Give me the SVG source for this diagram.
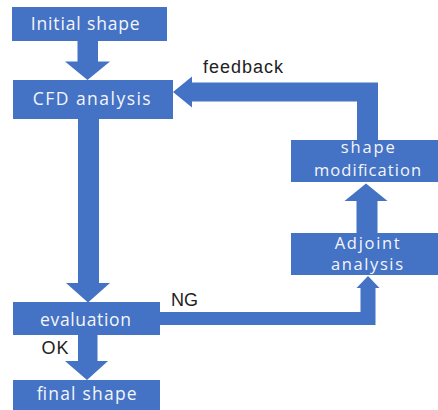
<svg xmlns="http://www.w3.org/2000/svg" width="438" height="410" viewBox="0 0 438 410">
<style>
.box{fill:#4472C4;}
.arr{fill:#4472C4;}
.bt{font-family:"Open Sans","Noto Sans","Liberation Sans",Arial,sans-serif;font-size:17.5px;fill:#f4f6fb;}
.bt2{font-family:"Open Sans","Noto Sans","Liberation Sans",Arial,sans-serif;font-size:16.5px;fill:#f4f6fb;}
.lb{font-family:"Liberation Sans",Arial,sans-serif;font-size:18px;fill:#222222;}
</style>
<rect width="438" height="410" fill="#ffffff"/>
<g id="connectors">
<polygon class="arr" points="77.5,41 98,41 98,61.5 110,61.5 87.5,80 65,61.5 77.5,61.5"/>
<polygon class="arr" points="78,119 99,119 99,283 110,283 88,302.5 66,283 78,283"/>
<polygon class="arr" points="78,335 97.5,335 97.5,361 108,361 87,380 65,361 78,361"/>
<polygon class="arr" points="356.5,233 377.5,233 377.5,201 387.5,201 366,183.5 344.5,201 356.5,201"/>
<polygon class="arr" points="378,140 357,140 357,101.5 192,101.5 192,107.5 173,92 192,76.5 192,82.5 378,82.5"/>
<polygon class="arr" points="160,312 360.5,312 360.5,288 356.5,288 368,276 379.5,288 375.5,288 375.5,325 160,325"/>
<text class="lb" x="203" y="73" font-size="19.5" textLength="80" lengthAdjust="spacing">feedback</text>
<text class="lb" x="171" y="306" textLength="27" lengthAdjust="spacing">NG</text>
<text class="lb" x="41.5" y="354.3" textLength="27" lengthAdjust="spacing">OK</text>
</g>
<g id="initial">
<rect class="box" x="12" y="7" width="155" height="34"/>
<text class="bt" x="30.7" y="30" textLength="109" lengthAdjust="spacing">Initial shape</text>
</g>
<g id="cfd">
<rect class="box" x="13" y="80" width="160" height="39"/>
<text class="bt" x="32.7" y="105.3" textLength="118" lengthAdjust="spacing">CFD analysis</text>
</g>
<g id="evaluation">
<rect class="box" x="13" y="302" width="147" height="33"/>
<text class="bt" x="40" y="325.7" textLength="91" lengthAdjust="spacing">evaluation</text>
</g>
<g id="final">
<rect class="box" x="13" y="380" width="147" height="30"/>
<text class="bt" x="36.7" y="400" textLength="100" lengthAdjust="spacing">final shape</text>
</g>
<g id="shapemod">
<rect class="box" x="291" y="140" width="147" height="42"/>
<text class="bt2" x="340.7" y="153" textLength="54" lengthAdjust="spacing">shape</text>
<text class="bt2" x="314" y="176" textLength="107" lengthAdjust="spacing">modification</text>
</g>
<g id="adjoint">
<rect class="box" x="291" y="233" width="147" height="42"/>
<text class="bt2" x="334.7" y="248.5" textLength="65" lengthAdjust="spacing">Adjoint</text>
<text class="bt2" x="331" y="270" textLength="72" lengthAdjust="spacing">analysis</text>
</g>
</svg>
